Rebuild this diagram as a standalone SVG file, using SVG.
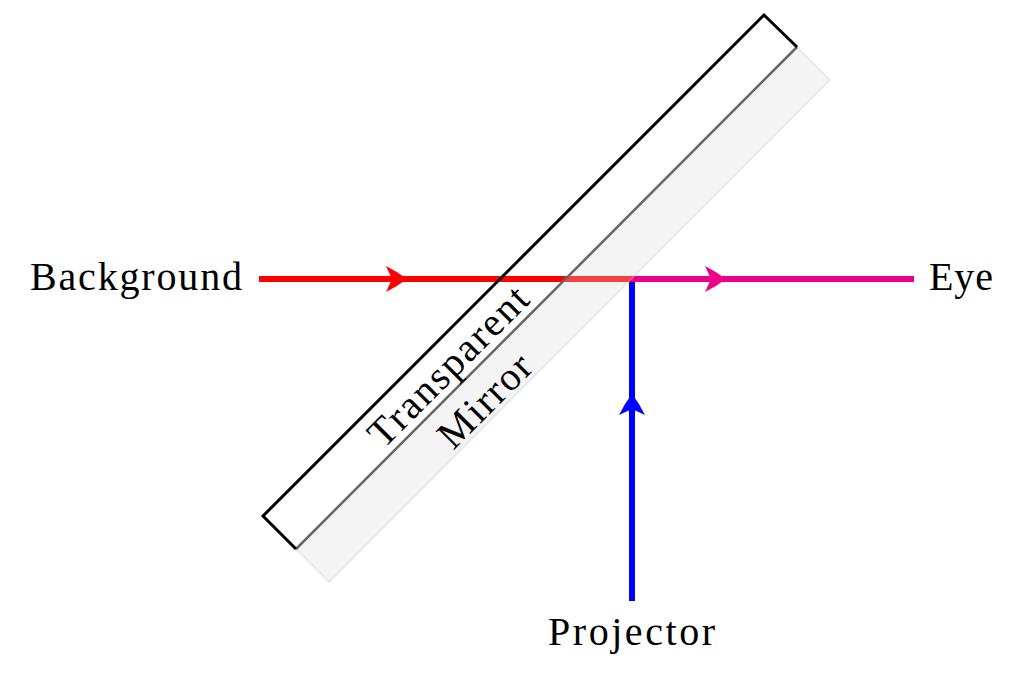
<svg xmlns="http://www.w3.org/2000/svg" width="1024" height="680" viewBox="0 0 1024 680">
<style>
.lbl{font-family:"Liberation Serif","Times New Roman",serif;font-size:40px;fill:#000}
.ray{fill:none;stroke-width:6}
</style>
<defs>
<path id="head" d="M1,0 Q-8,-7 -20,-13 L-14,0 L-20,13 Q-8,7 1,0 Z"/>
</defs>
<rect width="1024" height="680" fill="#fff"/>
<g id="connectors">
<line class="ray" x1="259" y1="279" x2="632" y2="279" stroke="#ff0000"/>
<line class="ray" x1="632" y1="279" x2="914" y2="279" stroke="#ec008c"/>
<line class="ray" x1="632" y1="282" x2="632" y2="601" stroke="#0000ff"/>
<use href="#head" transform="translate(406,279)" fill="#ff0000"/>
<use href="#head" transform="translate(725,279)" fill="#ec008c"/>
<use href="#head" transform="translate(632,395) rotate(-90)" fill="#0000ff"/>
</g>
<g id="mirror">
<polygon points="296,549 797,47 830,80 329,582" fill="#dcdcdc" fill-opacity="0.3" stroke="#c8c8c8" stroke-opacity="0.3" stroke-width="2"/>
<line x1="296" y1="549" x2="797" y2="47" stroke="#666" stroke-width="2.5"/>
<polyline points="296,549 263,516 764,15 797,47" fill="none" stroke="#000" stroke-width="3" stroke-linejoin="miter"/>
<text class="lbl" transform="translate(457.5,375.5) rotate(-45)" text-anchor="middle" textLength="209">Transparent</text>
<text class="lbl" transform="translate(494,410) rotate(-45)" text-anchor="middle" textLength="115">Mirror</text>
</g>
<g id="background"><text class="lbl" x="30" y="290" textLength="212">Background</text></g>
<g id="eye"><text class="lbl" x="929" y="290" textLength="64">Eye</text></g>
<g id="projector"><text class="lbl" x="548" y="645" textLength="167">Projector</text></g>
</svg>
